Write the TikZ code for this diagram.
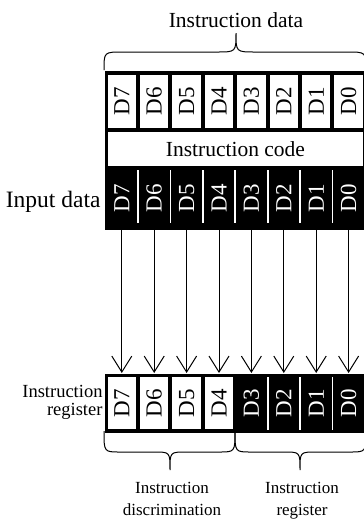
\documentclass[tikz,border=0pt]{standalone}
\usepackage{fontspec}
\usepackage{graphicx}
\setmainfont{Liberation Serif}
\usetikzlibrary{positioning, arrows.meta}
\tikzset{
	>={Straight Barb[length=16pt,width=20pt]}, % open arrow heads
	frame/.style={fill=black, inner sep=0pt, anchor=north west}, % black outer boxes
	bit/.style={minimum width=28.4pt, minimum height=53pt, inner sep=0pt, font=\fontsize{23}{24}\selectfont}, % one bit cell
	gap/.style={white, line width=1.8pt}, % white lines between black cells
	label/.style={inner sep=0pt},
}
\begin{document}
\begin{tikzpicture}[x=1pt, y=-1pt, line width=1pt]
	\useasboundingbox (0,0) rectangle (364,520);

	% Instruction data block
	\node[frame, minimum width=263pt, minimum height=159pt] (data) at (104,70) {};
	\foreach \b [count=\k from 0] in {7,...,0}
		\node[bit, fill=white] (t\b) at (121.8+32.4*\k, 101.5) {\rotatebox{90}{D\b}};
	\node[fill=white, minimum width=254.8pt, minimum height=34pt, inner sep=0pt,
		font=\fontsize{21.5}{22}\selectfont] (code) at (235.4,149) {Instruction code};

	% Input data row
	\foreach \b [count=\k from 0] in {7,...,0}
		\node[bit, text=white, minimum height=62pt] (i\b) at (121.8+32.4*\k, 198) {\rotatebox{90}{D\b}};
	\foreach \k in {1,...,7}
		\draw[gap] (105.6+32.4*\k, 170) -- (105.6+32.4*\k, 223);

	% Instruction register
	\node[frame, minimum width=263pt, minimum height=59pt] (reg) at (104,373) {};
	\foreach \b [count=\k from 0] in {7,...,4}
		\node[bit, fill=white, minimum height=52pt] (r\b) at (121.8+32.4*\k, 403) {\rotatebox{90}{D\b}};
	\foreach \b [count=\k from 4] in {3,...,0}
		\node[bit, text=white, minimum height=52pt] (r\b) at (121.8+32.4*\k, 403) {\rotatebox{90}{D\b}};
	\foreach \k in {5,...,7}
		\draw[gap] (105.6+32.4*\k, 377) -- (105.6+32.4*\k, 430);

	% Transfers
	\foreach \b in {7,...,0}
		\draw[->] (i\b.south) -- (i\b.south |- reg.north);

	% Braces
	\draw (104,70) .. controls (104,52) .. (123,52) -- (217,52) .. controls (236,52) .. (236,33)
		.. controls (236,52) .. (255,52) -- (347,52) .. controls (366,52) .. (366,70);
	\draw (104,431) .. controls (104,452) .. (120,452) -- (154,452) .. controls (170,452) .. (170,470)
		.. controls (170,452) .. (186,452) -- (219,452) .. controls (235,452) .. (235,431);
	\draw (235,431) .. controls (235,452) .. (251,452) -- (284,452) .. controls (300,452) .. (300,470)
		.. controls (300,452) .. (316,452) -- (350,452) .. controls (366,452) .. (366,431);

	% Labels
	\node[label, anchor=base, font=\fontsize{21.5}{22}\selectfont] (title) at (236,27) {Instruction data};
	\node[label, anchor=base east, font=\fontsize{23.5}{24}\selectfont] (input) at (101,207) {Input data};
	\node[label, anchor=east, align=right, font=\fontsize{18.5}{18}\selectfont] (regname) at (103,402.7) {Instruction\\register};
	\node[label, anchor=north, align=center, font=\fontsize{17}{22}\selectfont] (disc) at (172,482) {Instruction\\discrimination};
	\node[label, anchor=north, align=center, font=\fontsize{17}{22}\selectfont] (oper) at (302,482) {Instruction\\register};
\end{tikzpicture}
\end{document}
